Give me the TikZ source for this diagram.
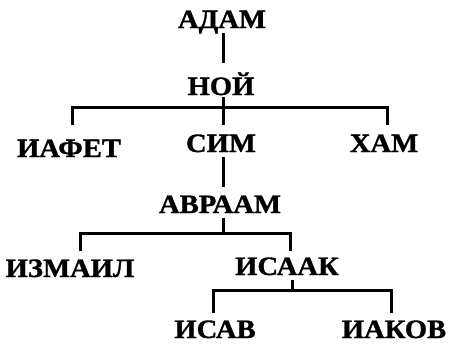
\documentclass[tikz,border=0pt]{standalone}
\usepackage{fontspec}
\setmainfont{Liberation Serif}[BoldFeatures={FakeBold=1.2}]
\begin{document}
\begin{tikzpicture}[x=1pt,y=-1pt,
  nm/.style={anchor=base,inner sep=0pt,font=\fontsize{26.5}{28}\selectfont\bfseries,xscale=1.08,transform shape},
  ln/.style={line width=3pt,line cap=butt}]
\useasboundingbox (0,0) rectangle (452,343);
\node[nm] (adam) at (222,28) {АДАМ};
\node[nm] (noi) at (221,95) {НОЙ};
\node[nm] (iafet) at (69,157) {ИАФЕТ};
\node[nm] (sim) at (221,152) {СИМ};
\node[nm] (ham) at (384,152) {ХАМ};
\node[nm] (avraam) at (220,213) {АВРААМ};
\node[nm] (izmail) at (70,277) {ИЗМАИЛ};
\node[nm] (isaak) at (287,275) {ИСААК};
\node[nm] (isav) at (215,338) {ИСАВ};
\node[nm] (iakov) at (394,338) {ИАКОВ};
\coordinate (j1) at (223,107);
\coordinate (j2) at (223,233);
\coordinate (j3) at (292,290);
% connectors
\draw[ln] (adam.base) ++(1,5) -- (223,63);
\draw[ln] (noi.base) ++(2,2) |- (j1);
\draw[ln] (72,125) |- (j1) -| (387,125);
\draw[ln] (j1) -- (223,125);
\draw[ln] (sim.base) ++(2,5) -- (223,187);
\draw[ln] (avraam.base) ++(3,5) |- (j2);
\draw[ln] (80,251) |- (j2) -| (290,251);
\draw[ln] (isaak.base) ++(5,5) |- (j3);
\draw[ln] (213,313) |- (j3) -| (391,313);
\end{tikzpicture}
\end{document}
